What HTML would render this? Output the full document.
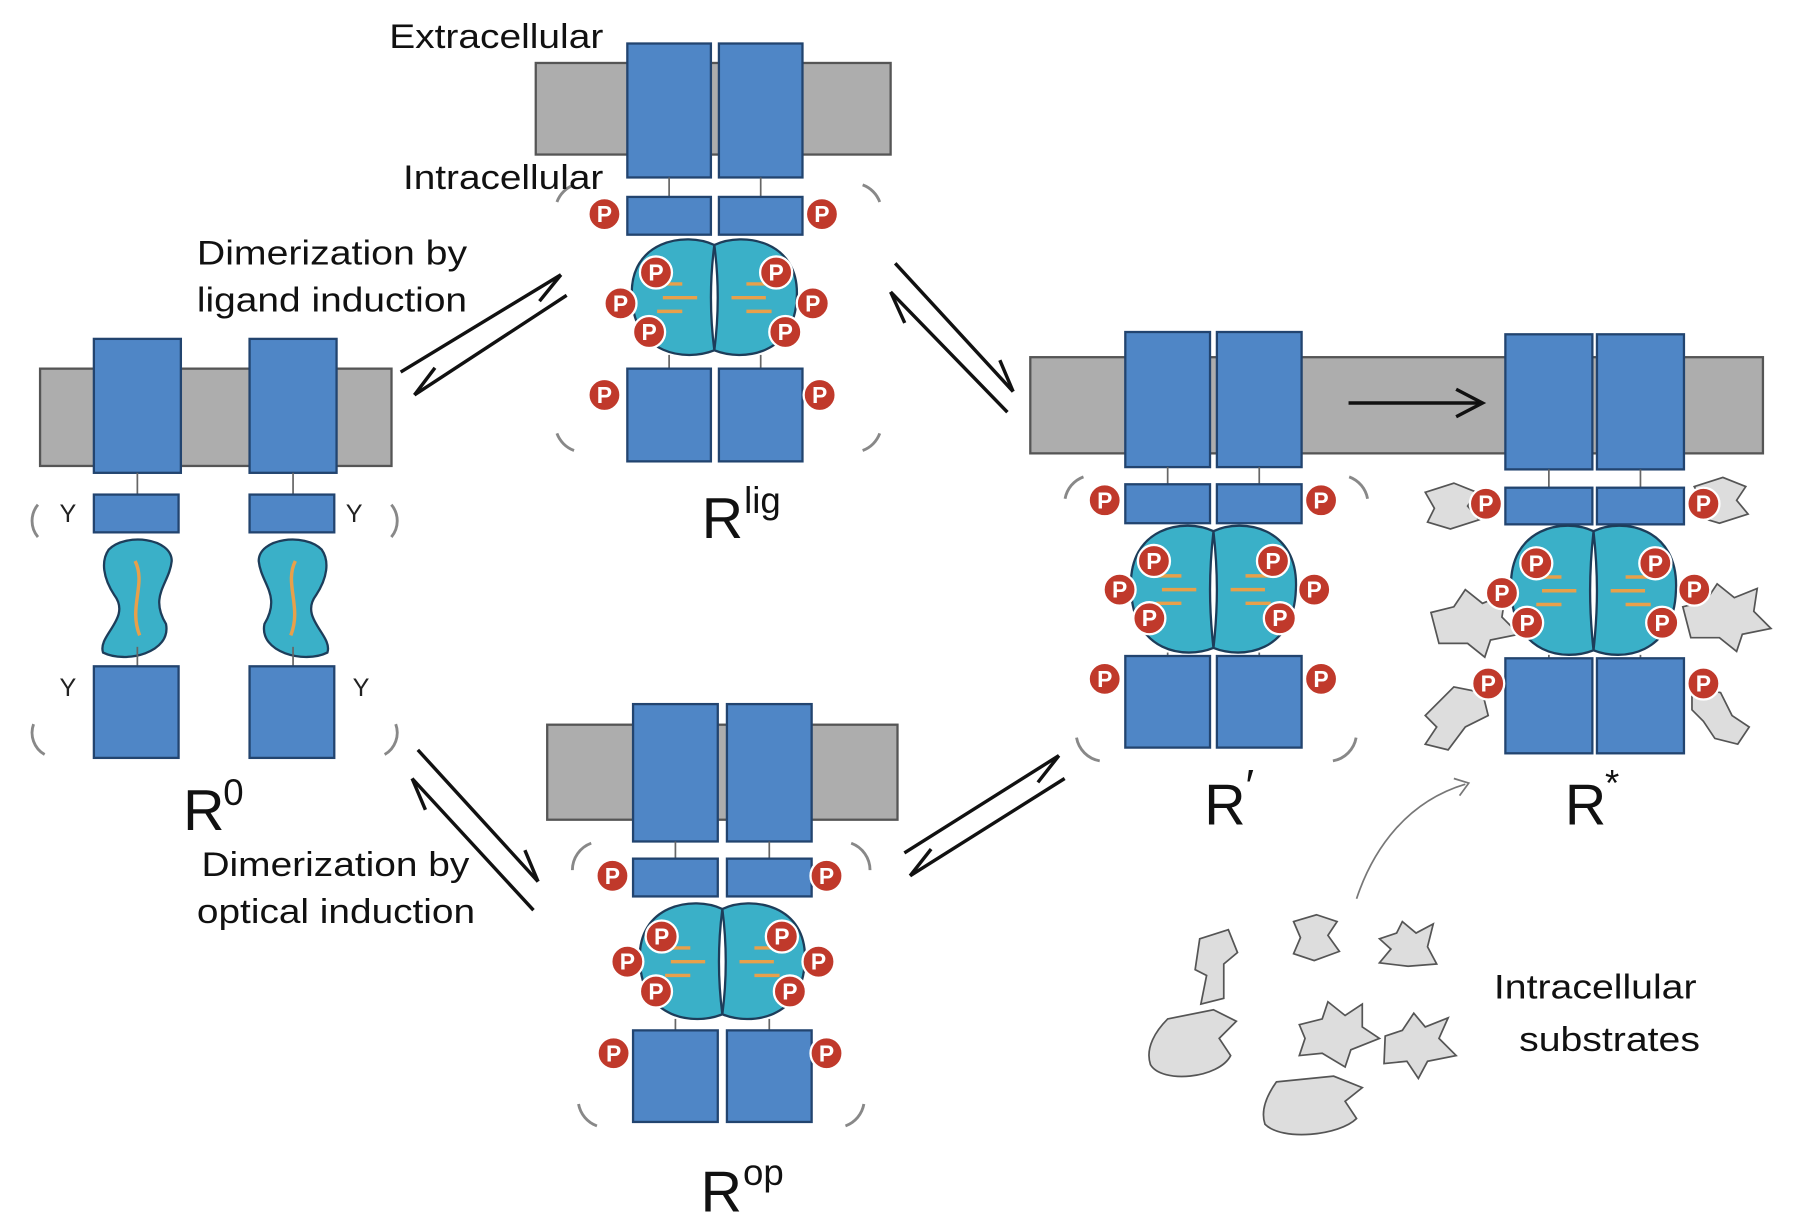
<!DOCTYPE html>
<html><head><meta charset="utf-8"><style>
html,body{margin:0;padding:0;background:#fff;width:1795px;height:1225px;overflow:hidden}
svg{display:block}
text{font-family:"Liberation Sans",sans-serif}
</style></head><body>
<svg id="s" width="1795" height="1225" viewBox="0 0 1568 1070" preserveAspectRatio="none" xmlns="http://www.w3.org/2000/svg">
<g id="g"></g>
<g font-family="Liberation Sans, sans-serif" fill="#111">
<text x="340" y="42" font-size="30" textLength="187" lengthAdjust="spacingAndGlyphs">Extracellular</text>
<text x="352" y="165" font-size="30" textLength="175" lengthAdjust="spacingAndGlyphs">Intracellular</text>
<text x="172" y="231" font-size="30" textLength="236" lengthAdjust="spacingAndGlyphs">Dimerization by</text>
<text x="172" y="272" font-size="30" textLength="236" lengthAdjust="spacingAndGlyphs">ligand induction</text>
<text x="176" y="765" font-size="30" textLength="234" lengthAdjust="spacingAndGlyphs">Dimerization by</text>
<text x="172" y="806" font-size="30" textLength="243" lengthAdjust="spacingAndGlyphs">optical induction</text>
<text x="1305" y="872" font-size="30" textLength="177" lengthAdjust="spacingAndGlyphs">Intracellular</text>
<text x="1327" y="918" font-size="30" textLength="158" lengthAdjust="spacingAndGlyphs">substrates</text>
<text x="613" y="470" font-size="50">R</text><text x="650" y="448" font-size="32">lig</text>
<text x="160" y="725" font-size="50">R</text><text x="195" y="703" font-size="32">0</text>
<text x="612" y="1058" font-size="50">R</text><text x="649" y="1035" font-size="32">op</text>
<text x="1052" y="720" font-size="50">R</text><text x="1088" y="700" font-size="40">′</text>
<text x="1367" y="720" font-size="50">R</text><text x="1402" y="695" font-size="32">*</text>
</g>
<g id="p" font-family="Liberation Sans, sans-serif"></g>
</svg>
<script>
const g=document.getElementById('g'),pg=document.getElementById('p');
let h='';
const B='#4f86c6',BS='#22446f';
function R(x,y,w,hh,f,s){h+=`<rect x="${x}" y="${y}" width="${w}" height="${hh}" fill="${f}" stroke="${s}" stroke-width="2"/>`;}
function L(x1,y1,x2,y2,c,w){h+=`<line x1="${x1}" y1="${y1}" x2="${x2}" y2="${y2}" stroke="${c||'#666'}" stroke-width="${w||1.5}"/>`;}
function kin(cx,y0,y1,sep){const m=(y0+y1)/2;
 [-1,1].forEach(d=>{const c=cx+d*sep;
 h+=`<path d="M${c},${y0+4} C${c+d*-25},${y0-8} ${c+d*-75},${y0} ${c+d*-72},${m} C${c+d*-70},${y1} ${c+d*-25},${y1+6} ${c},${y1-4} C${c+d*-4},${m+15} ${c+d*-4},${m-15} ${c},${y0+4}Z" fill="#3ab0c8" stroke="#1d3d5a" stroke-width="2"/>`;
 L(c+d*-28,m-12,c+d*-50,m-12,'#e8a04a',3);L(c+d*-15,m,c+d*-45,m,'#e8a04a',3);L(c+d*-28,m+12,c+d*-50,m+12,'#e8a04a',3);});}
function rec(xa,xb,w,top,bot,s1,s2,k0,k1,l0,l1){
 R(xa,top,w,bot-top,B,BS);R(xb,top,w,bot-top,B,BS);
 L(xa+w/2,bot,xa+w/2,s1);L(xb+w/2,bot,xb+w/2,s1);
 R(xa,s1,w,s2-s1,B,BS);R(xb,s1,w,s2-s1,B,BS);
 L(xa+w/2,l0,xa+w/2,k1);L(xb+w/2,l0,xb+w/2,k1);
 R(xa,l0,w,l1-l0,B,BS);R(xb,l0,w,l1-l0,B,BS);}
function arc(x,y,r,a0,a1){const p=a=>[x+r*Math.cos(a*Math.PI/180),y+r*Math.sin(a*Math.PI/180)];const [a,b]=p(a0),[c,d]=p(a1);h+=`<path d="M${a},${b} A${r},${r} 0 0 1 ${c},${d}" fill="none" stroke="#888" stroke-width="2.5"/>`;}
R(468,55,310,80,'#adadad','#555');R(35,322,307,85,'#adadad','#555');R(478,633,306,83,'#adadad','#555');R(900,312,640,84,'#adadad','#555');
rec(548,628,73,38,155,172,205,210,310,322,403);kin(624,210,310,0);
R(82,296,76,117,B,BS);R(218,296,76,117,B,BS);L(120,413,120,432);L(256,413,256,432);
R(82,432,74,33,B,BS);R(218,432,74,33,B,BS);
h+=`<path d="M95,480 C110,465 150,470 150,490 C148,510 130,520 145,545 C150,570 110,580 90,570 C85,555 115,540 100,520 C90,505 88,490 95,480Z" fill="#3ab0c8" stroke="#1d3d5a" stroke-width="2"/>`;
h+=`<path d="M281,480 C266,465 226,470 226,490 C228,510 246,520 231,545 C226,570 266,580 286,570 C291,555 261,540 276,520 C286,505 288,490 281,480Z" fill="#3ab0c8" stroke="#1d3d5a" stroke-width="2"/>`;
h+=`<path d="M118,490 C128,510 112,530 122,555" stroke="#e8a04a" stroke-width="3" fill="none"/><path d="M258,490 C248,510 264,530 254,555" stroke="#e8a04a" stroke-width="3" fill="none"/>`;
L(120,565,120,582);L(256,565,256,582);
R(82,582,74,80,B,BS);R(218,582,74,80,B,BS);
h+=`<text x="52" y="456" font-size="22" fill="#222">Y</text><text x="52" y="608" font-size="22" fill="#222">Y</text><text x="302" y="456" font-size="22" fill="#222">Y</text><text x="308" y="608" font-size="22" fill="#222">Y</text>`;
arc(50,455,22,140,220);arc(325,455,22,-40,40);arc(50,640,22,120,200);arc(325,640,22,-20,60);
rec(553,635,74,615,735,750,783,790,890,900,980);kin(631,790,890,0);
rec(983,1063,74,290,408,423,457,460,570,573,653);kin(1060,460,570,0);
rec(1315,1395,76,292,410,426,458,460,572,575,658);kin(1392,460,572,0);
arc(510,185,25,200,250);arc(745,185,25,-70,-20);arc(510,370,25,110,160);arc(745,370,25,20,70);
arc(525,760,25,180,250);arc(735,760,25,-70,0);arc(530,960,25,110,170);arc(730,960,25,10,70);
arc(955,440,25,190,250);arc(1170,440,25,-70,-10);arc(965,640,25,100,170);arc(1160,640,25,10,80);
function harrow(x1,y1,x2,y2,up){L(x1,y1,x2,y2,'#111',3);const a=Math.atan2(y2-y1,x2-x1),s=up?-1:1;const bx=x2-28*Math.cos(a)+s*10*Math.sin(a),by=y2-28*Math.sin(a)-s*10*Math.cos(a);L(x2,y2,bx,by,'#111',3);}
harrow(350,325,490,240,true);harrow(495,258,362,345,true);
harrow(782,230,885,342,false);harrow(880,360,778,255,false);
harrow(365,655,470,770,false);harrow(466,795,360,680,false);
harrow(790,745,925,660,true);harrow(930,680,795,765,true);
L(1178,352,1292,352,'#111',3);h+=`<path d="M1272,340 L1295,352 L1272,364" fill="none" stroke="#111" stroke-width="3"/>`;
h+=`<path d="M1185,785 C1200,740 1230,700 1280,685" fill="none" stroke="#777" stroke-width="1.5"/><path d="M1270,680 L1283,684 L1275,695" fill="none" stroke="#777" stroke-width="1.5"/>`;
const sub=[[1048,820,"M0,0 l25,-8 l8,20 l-12,10 l0,30 l-20,5 l5,-25 l-10,-5z"],[1130,800,"M0,5 l20,-6 l18,6 l-8,12 l10,14 l-22,8 l-18,-6 l6,-14z"],[1205,810,"M0,10 l15,-5 l5,-10 l12,10 l15,-8 l-5,20 l8,15 l-25,2 l-25,-3 l10,-12z"],[1010,890,"M10,0 l40,-8 l20,10 l-15,15 l10,15 c-10,20 -60,25 -70,8 c-5,-15 5,-30 15,-40z"],[1135,880,"M0,15 l20,-5 l5,-15 l15,12 l15,-10 l0,20 l15,10 l-25,10 l-5,15 l-20,-12 l-20,2 l5,-15z"],[1210,890,"M0,15 l15,-5 l10,-15 l10,12 l20,-8 l-8,18 l15,15 l-25,5 l-8,15 l-10,-15 l-20,2z"],[1105,945,"M10,0 l50,-5 l25,10 l-15,12 l10,15 c-15,15 -65,20 -80,5 c-5,-15 5,-30 10,-37z"],
[1245,425,"M0,5 l25,-8 l20,8 l-8,12 l10,12 l-25,8 l-20,-6 l6,-12z"],[1480,420,"M0,5 l25,-8 l20,8 l-8,12 l10,12 l-25,8 l-20,-6 l6,-12z"],[1250,520,"M0,15 l20,-5 l10,-15 l15,12 l20,-8 l-3,20 l15,15 l-25,5 l-5,15 l-15,-12 l-25,0z"],[1470,515,"M0,15 l20,-5 l10,-15 l15,12 l20,-8 l-3,20 l15,15 l-25,5 l-5,15 l-15,-12 l-25,0z"],[1245,600,"M25,0 l25,5 l5,20 l-20,10 l-15,20 l-20,-5 l10,-15 l-10,-10z"],[1478,600,"M0,0 l25,5 l10,20 l15,10 l-10,15 l-20,-5 l-10,-15 l-10,-10z"]];
sub.forEach(([x,y,d])=>h+=`<path transform="translate(${x},${y})" d="${d}" fill="#ddd" stroke="#555" stroke-width="1.5"/>`);
g.innerHTML=h;
let p='';
function P(x,y){p+=`<circle cx="${x}" cy="${y}" r="14" fill="#c0392b" stroke="#fff" stroke-width="2"/><text x="${x}" y="${y+7}" font-size="20" font-weight="bold" fill="#fff" text-anchor="middle">P</text>`;}
[[528,187],[718,187],[573,238],[542,265],[567,290],[678,238],[710,265],[686,290],[528,345],[716,345],
[535,765],[722,765],[578,818],[548,840],[573,866],[683,818],[715,840],[690,866],[536,920],[722,920],
[965,437],[1154,437],[1008,490],[978,515],[1004,540],[1112,490],[1148,515],[1118,540],[965,593],[1154,593],
[1298,440],[1488,440],[1342,492],[1312,518],[1334,544],[1446,492],[1480,515],[1452,544],[1300,597],[1488,597]].forEach(a=>P(a[0],a[1]));
document.getElementById('p').innerHTML=p;
</script>
</body></html>
